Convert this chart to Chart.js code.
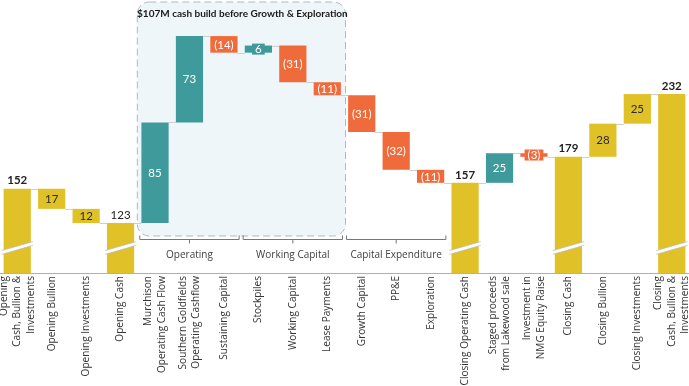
<!DOCTYPE html>
<html>
<head>
<meta charset="utf-8">
<script src="https://cdn.jsdelivr.net/npm/chart.js@4.4.1/dist/chart.umd.min.js"></script>
<style>
  html, body { margin: 0; padding: 0; background: #ffffff; }
  canvas { display: block; }
</style>
</head>
<body>
<canvas id="c" width="689" height="386"></canvas>
<script>
// ---- DATA ----
const categories = [
  ["Opening", "Cash, Bullion &", "Investments"],
  ["Opening Bullion"],
  ["Opening Investments"],
  ["Opening Cash"],
  ["Murchison", "Operating Cash Flow"],
  ["Southern Goldfields", "Operating Cashflow"],
  ["Sustaining Capital"],
  ["Stockpiles"],
  ["Working Capital"],
  ["Lease Payments"],
  ["Growth Capital"],
  ["PP&E"],
  ["Exploration"],
  ["Closing Operating Cash"],
  ["Staged proceeds", "from Lakewood sale"],
  ["Investment in", "NMG Equity Raise"],
  ["Closing Cash"],
  ["Closing Bullion"],
  ["Closing Investments"],
  ["Closing", "Cash, Bullion &", "Investments"]
];
// T = total / subtotal, G = gold component, U = increase, D = decrease
const barTypes = ["T","G","G","T","U","U","D","U","D","D","D","D","D","T","U","D","T","G","G","T"];
const values   = [152, -17, -12, 123, 85, 73, -14, 6, -31, -11, -31, -32, -11, 157, 25, -3, 179, 28, 25, 232];
const groups = [
  { label: "Operating", from: 4, to: 6 },
  { label: "Working Capital", from: 7, to: 9 },
  { label: "Capital Expenditure", from: 10, to: 12 }
];
const highlightTitle = "$107M cash build before Growth & Exploration";
const highlightFrom = 4, highlightTo = 9;
const yMin = 80.8, yMax = 311.5;

// ---- BUILD FLOATING BARS ----
const GOLD = '#E0C128', TEAL = '#3E9A9B', ORANGE = '#EF6B3B';
const ranges = [];
let running = 0;
values.forEach((v, i) => {
  if (barTypes[i] === 'T') { ranges.push([yMin, v]); running = v; }
  else { ranges.push([running, running + v]); running += v; }
});
const colors = barTypes.map(t => t === 'U' ? TEAL : (t === 'D' ? ORANGE : GOLD));
const regularTotals = new Set([3]);

const FONT = 'Lato, "Open Sans", sans-serif';
const AXFONT = '"Open Sans", Lato, sans-serif';

const decorPlugin = {
  id: 'decor',
  beforeDatasetsDraw(chart) {
    const ctx = chart.ctx, xs = chart.scales.x, area = chart.chartArea;
    const half = xs.getPixelForValue(1) - xs.getPixelForValue(0);
    const left = xs.getPixelForValue(highlightFrom) - half / 2 - 0.5;
    const right = xs.getPixelForValue(highlightTo) + half / 2 + 1;
    const top = area.top + 2, bottom = area.bottom - 37;
    ctx.save();
    ctx.beginPath();
    ctx.roundRect(left, top, right - left, bottom - top, 12);
    ctx.fillStyle = '#EEF6F9';
    ctx.fill();
    ctx.setLineDash([7, 4]);
    ctx.strokeStyle = '#A7BCC8';
    ctx.lineWidth = 1;
    ctx.stroke();
    ctx.setLineDash([]);
    ctx.fillStyle = '#1a1a1a';
    ctx.font = 'bold 10px ' + FONT;
    ctx.textAlign = 'center';
    ctx.textBaseline = 'middle';
    ctx.fillText(highlightTitle, (left + right) / 2 + 1, top + 12);

    // connectors
    const ys = chart.scales.y;
    const meta = chart.getDatasetMeta(0);
    ctx.strokeStyle = '#cfcfcf';
    ctx.lineWidth = 1;
    for (let i = 0; i < ranges.length - 1; i++) {
      const endVal = ranges[i][1];
      const y = Math.round(ys.getPixelForValue(endVal)) + 0.5;
      const b1 = meta.data[i], b2 = meta.data[i + 1];
      ctx.beginPath();
      ctx.moveTo(b1.x + b1.width / 2, y);
      ctx.lineTo(b2.x - b2.width / 2, y);
      ctx.stroke();
    }

    // group brackets
    ctx.strokeStyle = '#777';
    ctx.lineWidth = 1;
    groups.forEach(g => {
      const l = xs.getPixelForValue(g.from) - half / 2 + 2;
      const r = xs.getPixelForValue(g.to) + half / 2 - 2;
      const y = area.bottom - 33.5;
      const c = (l + r) / 2;
      ctx.beginPath();
      ctx.moveTo(l, y - 4);
      ctx.lineTo(l, y);
      ctx.lineTo(r, y);
      ctx.lineTo(r, y - 4);
      ctx.moveTo(c, y);
      ctx.lineTo(c, y + 4);
      ctx.stroke();
      ctx.fillStyle = '#404040';
      ctx.font = '10px ' + AXFONT;
      ctx.textAlign = 'center';
      ctx.textBaseline = 'middle';
      ctx.fillText(g.label, c, area.bottom - 18);
    });
    ctx.restore();
  },
  afterDatasetsDraw(chart) {
    const ctx = chart.ctx, xs = chart.scales.x, ys = chart.scales.y, area = chart.chartArea;
    const meta = chart.getDatasetMeta(0);
    ctx.save();
    // break marks
    meta.data.forEach((b, i) => {
      if (barTypes[i] !== 'T') return;
      const l = b.x - b.width / 2 - 2, r = b.x + b.width / 2 + 2;
      const yc = area.bottom - 25;
      ctx.lineCap = 'butt';
      ctx.strokeStyle = '#ffffff';
      ctx.lineWidth = 3.5;
      ctx.beginPath(); ctx.moveTo(l, yc + 4.5); ctx.lineTo(r, yc - 4.5); ctx.stroke();
      ctx.strokeStyle = '#b8b8b8';
      ctx.lineWidth = 0.7;
      ctx.beginPath(); ctx.moveTo(l, yc + 2.6); ctx.lineTo(r, yc - 6.4); ctx.stroke();
      ctx.beginPath(); ctx.moveTo(l, yc + 6.4); ctx.lineTo(r, yc - 2.6); ctx.stroke();
    });
    // value labels
    meta.data.forEach((b, i) => {
      const t = barTypes[i], v = values[i];
      ctx.textAlign = 'center';
      ctx.textBaseline = 'middle';
      if (t === 'T') {
        ctx.font = (regularTotals.has(i) ? '' : 'bold ') + '11.5px ' + FONT;
        ctx.fillStyle = '#222';
        ctx.fillText(String(v), b.x, ys.getPixelForValue(v) - 8);
        return;
      }
      const txt = t === 'D' ? '(' + Math.abs(v) + ')' : String(Math.abs(v));
      const yc = (ys.getPixelForValue(ranges[i][0]) + ys.getPixelForValue(ranges[i][1])) / 2;
      ctx.font = '11.5px ' + FONT;
      const w = ctx.measureText(txt).width + 6;
      ctx.fillStyle = colors[i];
      ctx.fillRect(b.x - w / 2, yc - 5.5, w, 11);
      ctx.fillStyle = t === 'G' ? '#2a2a2a' : '#ffffff';
      ctx.fillText(txt, b.x, yc + 0.5);
    });
    // x labels
    ctx.fillStyle = '#333';
    ctx.font = '10.1px ' + AXFONT;
    const lh = 13.5;
    categories.forEach((lines, i) => {
      const x = xs.getPixelForValue(i);
      ctx.save();
      ctx.translate(x, area.bottom + 3);
      ctx.rotate(-Math.PI / 2);
      ctx.textAlign = 'right';
      ctx.textBaseline = 'middle';
      lines.forEach((ln, k) => {
        ctx.fillText(ln, 0, (k - (lines.length - 1) / 2) * lh);
      });
      ctx.restore();
    });
    ctx.restore();
  }
};

new Chart(document.getElementById('c'), {
  type: 'bar',
  data: {
    labels: categories.map(c => c.join(' ')),
    datasets: [{
      data: ranges,
      backgroundColor: colors,
      borderWidth: 0,
      borderSkipped: false,
      barPercentage: 0.79,
      categoryPercentage: 1
    }]
  },
  options: {
    responsive: false,
    animation: false,
    layout: { padding: 0 },
    plugins: { legend: { display: false }, tooltip: { enabled: false } },
    scales: {
      x: {
        grid: { display: false },
        ticks: { display: false },
        border: { display: true, color: '#b0b0b0', width: 1 },
        afterFit: s => { s.height = 113; }
      },
      y: { display: false, min: yMin, max: yMax }
    }
  },
  plugins: [decorPlugin]
});
</script>
</body>
</html>
